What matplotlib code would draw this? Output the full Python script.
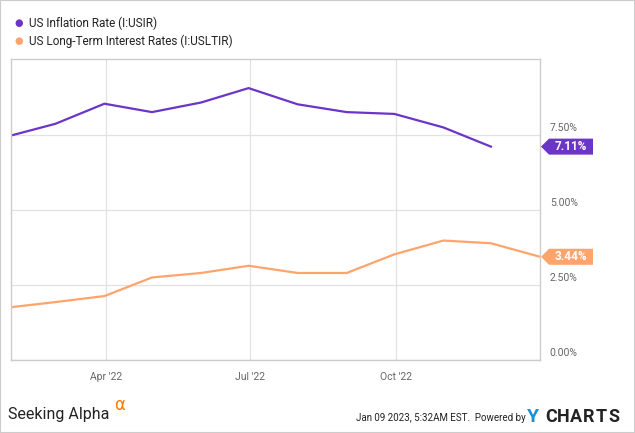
import matplotlib.pyplot as plt
import matplotlib.dates as mdates
import numpy as np
import pandas as pd
from matplotlib.patches import Polygon, Rectangle
from matplotlib.transforms import IdentityTransform, ScaledTranslation

plt.rcParams['font.family'] = ['Roboto', 'DejaVu Sans']

# Monthly data (plotted at month end)
infl_dates = pd.date_range('2022-01-31', periods=11, freq='ME')
infl_vals = [7.48, 7.87, 8.54, 8.26, 8.58, 9.06, 8.52, 8.26, 8.20, 7.75, 7.11]

rate_dates = pd.date_range('2022-01-31', periods=12, freq='ME')
rate_vals = [1.76, 1.93, 2.13, 2.75, 2.90, 3.14, 2.90, 2.90, 3.52, 3.98, 3.89, 3.44]

series_names = ['US Inflation Rate (I:USIR)', 'US Long-Term Interest Rates (I:USLTIR)']
series_colors = ['#6b35c8', '#ffa46b']

y_ticks = [0, 2.5, 5, 7.5]
x_ticks = ['2022-04-01', '2022-07-01', '2022-10-01']

W, H = 635, 433
fig = plt.figure(figsize=(W / 100, H / 100), dpi=100)
ax = fig.add_axes([11 / W, (H - 360) / H, (540 - 11) / W, (360 - 59) / H])

ax.plot(infl_dates, infl_vals, color=series_colors[0], lw=1.6)
ax.plot(rate_dates, rate_vals, color=series_colors[1], lw=1.6)

ax.set_xlim(pd.Timestamp('2022-01-31'), pd.Timestamp('2022-12-31'))
ax.set_ylim(0, 10.03)

ax.set_yticks(y_ticks)
ax.set_yticklabels([f'{v:.2f}%' for v in y_ticks])
ax.yaxis.tick_right()
ax.set_xticks([pd.Timestamp(d) for d in x_ticks])
ax.xaxis.set_major_formatter(mdates.DateFormatter("%b '%y"))
ax.tick_params(axis='both', length=0, labelsize=7.5, labelcolor='#666666')
ax.tick_params(axis='y', pad=7)
ax.tick_params(axis='x', pad=9)
shift = ScaledTranslation(0, 1.5 / 100, fig.dpi_scale_trans)
for lab in ax.get_yticklabels():
    lab.set_va('bottom')
    lab.set_transform(lab.get_transform() + shift)
ax.grid(True, color='#e2e2e2', lw=0.9)
ax.set_axisbelow(True)
for s in ax.spines.values():
    s.set_color('#cccccc')
    s.set_linewidth(1)

# value tags on the right edge
fig.canvas.draw()
for dates, vals, c in [(infl_dates, infl_vals, series_colors[0]),
                       (rate_dates, rate_vals, series_colors[1])]:
    x0 = ax.transAxes.transform((1, 0))[0]
    y0 = ax.transData.transform((mdates.date2num(dates[-1]), vals[-1]))[1]
    pts = [(x0 + 1, y0), (x0 + 9, y0 - 8), (x0 + 53, y0 - 8), (x0 + 53, y0 + 8), (x0 + 9, y0 + 8)]
    fig.patches.append(Polygon(pts, closed=True, transform=IdentityTransform(),
                               facecolor=c, edgecolor='none', figure=fig))
    fig.text((x0 + 31) / W, y0 / H, f'{vals[-1]:.2f}%', color='white', fontsize=8.5,
             fontweight='bold', ha='center', va='center')

# legend
for i, (name, c) in enumerate(zip(series_names, series_colors)):
    yy = 1 - (23 + 18 * i) / H
    fig.text(14 / W, yy, '\u25CF', color=c, fontsize=7, ha='left', va='center',
             family=['DejaVu Sans'])
    fig.text(29 / W, yy, name, color='#222222', fontsize=8.5, ha='left', va='center')

# footer
fig.text(8 / W, 1 - 414 / H, 'Seeking Alpha', fontsize=11.5, color='#222222',
         ha='left', va='center')
fig.text(114 / W, 1 - 405 / H, '\u03b1', fontsize=12, color='#f57c00',
         ha='left', va='center', family=['DejaVu Sans'])
fig.text(526 / W, 1 - 418 / H, 'Jan 09 2023, 5:32AM EST.  Powered by', fontsize=7,
         color='#222222', ha='right', va='center')
fig.text(527 / W, 1 - 417 / H, 'Y', fontsize=14, color='#1b8fd6', fontweight='bold',
         ha='left', va='center')
for k, ch in enumerate('CHARTS'):
    fig.text((551 + 12.6 * k) / W, 1 - 417 / H, ch, fontsize=13, color='#222222',
             fontweight='bold', ha='center', va='center')

# outer frame
fig.patches.append(Rectangle((0, 0), 1, 1, transform=fig.transFigure, fill=False,
                             edgecolor='#cccccc', lw=1.5, figure=fig))

fig.savefig('out.png', dpi=100)
